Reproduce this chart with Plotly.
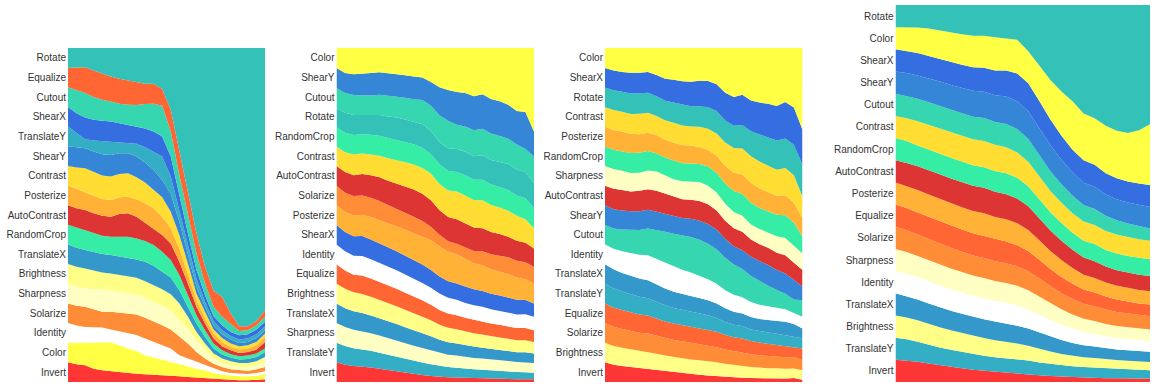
import plotly.graph_objects as go

# ---------------------------------------------------------------------------
# Share of each augmentation over 24 training steps, four searches.
# Values are relative weights per step; each panel is stacked and normalised.
# ---------------------------------------------------------------------------

# Panel 1 (bottom -> top)
p1_labels = ["Invert", "Color", "Identity", "Solarize", "Sharpness", "Brightness",
             "TranslateX", "RandomCrop", "AutoContrast", "Posterize", "Contrast",
             "ShearY", "TranslateY", "ShearX", "Cutout", "Equalize", "Rotate"]
p1_invert = [59, 53, 50, 40, 35, 32, 29, 27, 25, 23, 22, 21, 19, 17, 15, 13, 12, 9, 7, 5, 5, 5, 6, 8]
p1_color = [59, 65, 70, 80, 85, 87, 81, 73, 68, 57, 51, 46, 41, 36, 32, 27, 23, 18, 15, 15, 12, 12, 13, 17]
p1_identity = [59, 51, 45, 45, 43, 38, 41, 47, 48, 50, 47, 43, 40, 27, 23, 20, 15, 13, 10, 7, 8, 7, 8, 7]
p1_solarize = [59, 59, 60, 52, 47, 53, 57, 59, 61, 62, 62, 60, 57, 55, 45, 30, 20, 15, 13, 11, 10, 10, 11, 13]
p1_sharpness = [59, 57, 55, 61, 67, 65, 62, 61, 60, 60, 58, 58, 56, 50, 42, 35, 25, 15, 12, 12, 10, 11, 12, 15]
p1_brightness = [59, 60, 60, 55, 51, 50, 51, 50, 50, 50, 50, 50, 50, 50, 38, 25, 20, 15, 13, 12, 12, 12, 12, 15]
p1_translatex = [59, 57, 55, 55, 55, 55, 55, 56, 55, 58, 58, 52, 50, 40, 30, 25, 20, 15, 12, 11, 10, 12, 13, 15]
p1_randomcrop = [59, 60, 60, 57, 55, 55, 59, 62, 63, 62, 62, 60, 52, 45, 35, 25, 20, 15, 13, 10, 10, 10, 10, 10]
p1_autocontrast = [59, 58, 60, 60, 60, 60, 68, 70, 65, 55, 50, 50, 50, 40, 35, 25, 20, 15, 12, 12, 10, 11, 12, 20]
p1_posterize = [59, 58, 55, 53, 50, 50, 50, 50, 52, 58, 60, 55, 45, 40, 30, 20, 15, 15, 13, 10, 10, 10, 13, 15]
p1_contrast = [59, 64, 70, 70, 70, 70, 70, 70, 66, 62, 55, 58, 50, 40, 30, 20, 20, 12, 12, 10, 10, 10, 10, 10]
p1_sheary = [59, 60, 60, 62, 64, 65, 62, 60, 62, 60, 60, 52, 53, 40, 30, 20, 15, 13, 11, 12, 10, 10, 12, 10]
p1_translatey = [59, 43, 27, 33, 39, 40, 33, 32, 38, 46, 55, 70, 52, 35, 30, 25, 15, 13, 12, 11, 10, 11, 11, 12]
p1_shearx = [59, 60, 65, 62, 61, 60, 57, 53, 52, 56, 60, 60, 60, 40, 30, 25, 20, 14, 15, 12, 13, 12, 14, 13]
p1_cutout = [59, 68, 73, 68, 63, 60, 58, 60, 64, 73, 83, 92, 75, 65, 55, 50, 35, 28, 25, 23, 13, 12, 13, 15]
p1_equalize = [59, 68, 77, 80, 78, 75, 75, 73, 71, 61, 60, 50, 65, 75, 65, 60, 50, 48, 60, 32, 14, 12, 13, 20]
p1_rotate = [59, 59, 58, 67, 77, 85, 92, 97, 100, 107, 107, 123, 185, 305, 435, 555, 655, 727, 745, 795, 833, 833, 817, 785]

# Panel 2 (bottom -> top)
p2_labels = ["Invert", "TranslateY", "Sharpness", "TranslateX", "Brightness", "Equalize",
             "Identity", "ShearX", "Posterize", "Solarize", "AutoContrast", "Contrast",
             "RandomCrop", "Rotate", "Cutout", "ShearY", "Color"]
p2_invert = [59, 52, 48, 45, 42, 38, 34, 30, 26, 22, 20, 18, 16, 15, 14, 13, 12, 11, 10, 9, 9, 8, 8, 8]
p2_translatey = [59, 56, 53, 50, 48, 46, 44, 42, 40, 38, 36, 34, 33, 31, 30, 28, 27, 26, 25, 24, 23, 22, 21, 20]
p2_sharpness = [59, 57, 55, 53, 51, 50, 48, 47, 45, 44, 42, 41, 40, 38, 37, 36, 35, 34, 33, 32, 31, 30, 30, 29]
p2_translatex = [59, 57, 55, 53, 51, 50, 49, 48, 46, 45, 43, 42, 40, 39, 37, 36, 35, 33, 32, 31, 30, 29, 29, 28]
p2_brightness = [59, 58, 57, 55, 54, 53, 52, 51, 50, 49, 48, 47, 46, 45, 44, 42, 41, 40, 39, 38, 37, 36, 36, 35]
p2_equalize = [59, 55, 52, 54, 53, 52, 51, 50, 49, 48, 47, 46, 45, 44, 43, 42, 41, 40, 39, 38, 37, 36, 36, 35]
p2_identity = [59, 58, 57, 57, 56, 55, 54, 53, 52, 51, 50, 50, 50, 48, 47, 46, 45, 44, 43, 42, 42, 41, 41, 40]
p2_shearx = [59, 58, 58, 58, 57, 56, 55, 55, 54, 54, 53, 52, 52, 51, 50, 50, 49, 48, 47, 46, 45, 44, 42, 40]
p2_posterize = [59, 60, 62, 62, 65, 68, 70, 72, 75, 78, 82, 88, 92, 92, 90, 85, 80, 78, 75, 72, 70, 66, 62, 60]
p2_solarize = [59, 58, 58, 56, 55, 54, 52, 50, 48, 46, 44, 40, 35, 32, 32, 35, 38, 42, 45, 48, 50, 50, 50, 50]
p2_autocontrast = [59, 62, 62, 62, 65, 68, 70, 72, 75, 78, 78, 78, 75, 75, 75, 75, 72, 70, 68, 65, 62, 60, 58, 55]
p2_contrast = [59, 60, 62, 60, 60, 62, 65, 68, 70, 72, 75, 78, 80, 82, 85, 85, 85, 85, 82, 80, 78, 75, 70, 60]
p2_randomcrop = [58, 58, 58, 56, 57, 58, 58, 58, 58, 58, 58, 58, 60, 60, 60, 62, 62, 62, 62, 62, 62, 60, 62, 60]
p2_rotate = [58, 60, 60, 56, 57, 60, 62, 64, 65, 65, 68, 68, 68, 70, 70, 72, 72, 74, 75, 75, 78, 78, 78, 75]
p2_cutout = [60, 60, 60, 58, 57, 58, 60, 60, 62, 65, 70, 75, 82, 85, 75, 78, 80, 80, 80, 78, 76, 75, 68, 80]
p2_sheary = [60, 60, 62, 62, 65, 65, 65, 65, 65, 65, 65, 70, 85, 95, 100, 103, 105, 105, 105, 105, 102, 100, 110, 75]
p2_color = [60, 75, 78, 75, 72, 70, 72, 75, 78, 82, 85, 100, 120, 130, 135, 138, 148, 140, 155, 160, 170, 188, 190, 250]

# Panel 3 (bottom -> top)
p3_labels = ["Invert", "Brightness", "Solarize", "Equalize", "TranslateY", "TranslateX",
             "Identity", "Cutout", "ShearY", "AutoContrast", "Sharpness", "RandomCrop",
             "Posterize", "Contrast", "Rotate", "ShearX", "Color"]
p3_invert = [59, 52, 48, 45, 42, 40, 37, 34, 30, 27, 24, 22, 20, 18, 16, 14, 13, 12, 11, 10, 10, 10, 12, 7]
p3_brightness = [59, 57, 55, 54, 52, 50, 49, 48, 47, 46, 45, 44, 43, 42, 40, 38, 35, 33, 32, 30, 30, 28, 28, 28]
p3_solarize = [59, 58, 57, 56, 55, 55, 54, 53, 52, 52, 51, 50, 48, 46, 44, 42, 40, 38, 36, 35, 34, 33, 33, 30]
p3_equalize = [59, 58, 57, 56, 55, 54, 53, 52, 51, 50, 50, 49, 48, 47, 45, 43, 42, 40, 38, 36, 34, 33, 30, 35]
p3_translatey = [59, 58, 56, 55, 54, 52, 51, 50, 48, 47, 46, 45, 44, 42, 40, 38, 37, 35, 34, 33, 32, 31, 30, 30]
p3_translatex = [59, 58, 56, 55, 55, 54, 53, 52, 50, 48, 47, 46, 45, 44, 42, 40, 38, 37, 36, 36, 37, 38, 38, 30]
p3_identity = [59, 62, 65, 68, 72, 75, 78, 80, 78, 75, 72, 68, 64, 60, 56, 52, 48, 45, 42, 40, 38, 36, 32, 35]
p3_cutout = [59, 62, 66, 70, 75, 80, 88, 95, 100, 105, 108, 110, 108, 105, 100, 92, 85, 78, 70, 60, 52, 45, 40, 50]
p3_sheary = [59, 58, 57, 56, 56, 56, 55, 55, 54, 54, 56, 58, 60, 60, 58, 56, 56, 58, 60, 60, 58, 58, 58, 40]
p3_autocontrast = [59, 62, 62, 60, 62, 62, 64, 62, 60, 58, 58, 60, 60, 58, 56, 55, 55, 52, 50, 50, 50, 52, 50, 50]
p3_sharpness = [59, 60, 58, 56, 55, 56, 58, 56, 54, 55, 56, 58, 56, 55, 52, 50, 48, 45, 45, 45, 48, 50, 50, 50]
p3_randomcrop = [59, 58, 58, 60, 60, 58, 55, 56, 58, 56, 55, 55, 58, 60, 62, 64, 65, 65, 62, 60, 62, 65, 68, 50]
p3_posterize = [59, 60, 60, 58, 56, 55, 56, 55, 54, 56, 55, 52, 50, 52, 55, 56, 58, 60, 58, 56, 55, 58, 60, 55]
p3_contrast = [59, 60, 60, 60, 62, 60, 58, 60, 62, 60, 58, 62, 65, 68, 72, 75, 78, 80, 80, 78, 76, 78, 80, 65]
p3_rotate = [59, 60, 60, 62, 62, 60, 60, 60, 62, 64, 62, 62, 65, 68, 68, 68, 70, 75, 80, 82, 85, 85, 90, 95]
p3_shearx = [59, 60, 60, 62, 62, 62, 65, 68, 70, 72, 75, 78, 80, 82, 85, 88, 90, 92, 95, 98, 100, 105, 110, 105]
p3_color = [60, 68, 72, 75, 75, 72, 82, 95, 98, 102, 103, 100, 100, 110, 138, 150, 140, 158, 162, 162, 168, 155, 175, 245]

# Panel 4 (bottom -> top)
p4_labels = ["Invert", "TranslateY", "Brightness", "TranslateX", "Identity", "Sharpness",
             "Solarize", "Equalize", "Posterize", "AutoContrast", "RandomCrop", "Contrast",
             "Cutout", "ShearY", "ShearX", "Color", "Rotate"]
p4_invert = [59, 56, 52, 47, 42, 38, 34, 30, 27, 24, 22, 20, 18, 16, 15, 14, 13, 12, 11, 10, 10, 9, 9, 9]
p4_translatey = [59, 56, 52, 48, 45, 43, 41, 39, 37, 36, 35, 34, 33, 32, 31, 30, 29, 28, 27, 26, 25, 24, 23, 22]
p4_brightness = [59, 57, 55, 53, 51, 49, 47, 45, 43, 41, 39, 37, 35, 33, 31, 29, 27, 26, 25, 24, 23, 23, 22, 22]
p4_translatex = [59, 56, 54, 52, 50, 49, 48, 47, 46, 45, 44, 42, 41, 40, 38, 36, 34, 32, 30, 29, 28, 28, 27, 27]
p4_identity = [59, 58, 57, 56, 55, 54, 53, 52, 51, 50, 49, 48, 46, 44, 42, 40, 38, 35, 33, 31, 30, 29, 28, 27]
p4_sharpness = [59, 57, 55, 54, 53, 52, 51, 50, 49, 48, 47, 46, 45, 44, 42, 40, 38, 36, 34, 33, 32, 32, 31, 31]
p4_solarize = [59, 57, 55, 54, 53, 52, 51, 50, 49, 48, 47, 46, 45, 44, 43, 42, 41, 40, 39, 38, 37, 36, 35, 35]
p4_equalize = [59, 58, 57, 57, 56, 56, 55, 55, 54, 53, 52, 50, 48, 46, 44, 42, 40, 38, 36, 34, 33, 32, 31, 31]
p4_posterize = [59, 58, 58, 57, 57, 56, 56, 55, 55, 54, 53, 52, 50, 48, 46, 44, 42, 40, 38, 37, 36, 36, 35, 35]
p4_autocontrast = [59, 60, 61, 62, 62, 62, 62, 62, 62, 61, 60, 58, 56, 54, 52, 50, 48, 46, 44, 42, 41, 40, 40, 40]
p4_randomcrop = [59, 57, 54, 52, 52, 52, 52, 51, 50, 50, 50, 49, 48, 47, 46, 46, 45, 45, 45, 44, 44, 44, 44, 44]
p4_contrast = [59, 60, 62, 63, 63, 64, 64, 64, 64, 63, 62, 60, 58, 56, 54, 53, 52, 51, 50, 50, 50, 50, 49, 49]
p4_cutout = [59, 58, 58, 58, 57, 57, 56, 56, 56, 55, 55, 55, 54, 52, 50, 48, 46, 44, 42, 40, 38, 36, 34, 32]
p4_sheary = [59, 60, 60, 61, 62, 62, 63, 64, 64, 65, 66, 66, 66, 66, 66, 64, 62, 60, 58, 56, 55, 55, 56, 57]
p4_shearx = [59, 58, 58, 57, 57, 57, 58, 58, 58, 60, 62, 65, 66, 66, 65, 62, 60, 60, 58, 56, 56, 56, 56, 58]
p4_color = [59, 62, 66, 70, 72, 74, 76, 78, 78, 80, 76, 80, 76, 85, 100, 115, 128, 125, 122, 125, 125, 128, 140, 160]
p4_rotate = [59, 58, 58, 60, 64, 70, 73, 76, 75, 78, 80, 82, 110, 150, 190, 225, 255, 290, 297, 318, 332, 338, 328, 314]

panels = [
    (p1_labels, [p1_invert, p1_color, p1_identity, p1_solarize, p1_sharpness, p1_brightness,
                 p1_translatex, p1_randomcrop, p1_autocontrast, p1_posterize, p1_contrast,
                 p1_sheary, p1_translatey, p1_shearx, p1_cutout, p1_equalize, p1_rotate]),
    (p2_labels, [p2_invert, p2_translatey, p2_sharpness, p2_translatex, p2_brightness, p2_equalize,
                 p2_identity, p2_shearx, p2_posterize, p2_solarize, p2_autocontrast, p2_contrast,
                 p2_randomcrop, p2_rotate, p2_cutout, p2_sheary, p2_color]),
    (p3_labels, [p3_invert, p3_brightness, p3_solarize, p3_equalize, p3_translatey, p3_translatex,
                 p3_identity, p3_cutout, p3_sheary, p3_autocontrast, p3_sharpness, p3_randomcrop,
                 p3_posterize, p3_contrast, p3_rotate, p3_shearx, p3_color]),
    (p4_labels, [p4_invert, p4_translatey, p4_brightness, p4_translatex, p4_identity, p4_sharpness,
                 p4_solarize, p4_equalize, p4_posterize, p4_autocontrast, p4_randomcrop, p4_contrast,
                 p4_cutout, p4_sheary, p4_shearx, p4_color, p4_rotate]),
]

# one fixed colour per augmentation, shared by all panels
COLORS = {
    "Rotate": "#33c1b8", "Equalize": "#ff6633", "Cutout": "#36d7b0", "ShearX": "#356ee0",
    "TranslateY": "#33aec4", "ShearY": "#3586d6", "Contrast": "#ffdd33", "Posterize": "#ffb236",
    "AutoContrast": "#dd3434", "RandomCrop": "#36eda6", "TranslateX": "#3598cb",
    "Brightness": "#ffff88", "Sharpness": "#ffffc4", "Solarize": "#ff8c36",
    "Identity": "#ffffff", "Color": "#ffff44", "Invert": "#ff3636",
}

W, H = 1153, 385
# plot rectangles in pixels: (left, right, top, bottom)
boxes = [(68, 265, 48, 382), (336.5, 534, 48, 382), (605, 802.5, 48, 382), (895.5, 1150, 5, 382)]

fig = go.Figure()
layout_axes = {}
for k, (labels, series) in enumerate(panels):
    sfx = "" if k == 0 else str(k + 1)
    steps = list(range(len(series[0])))
    for name, vals in zip(labels, series):
        fig.add_trace(go.Scatter(
            x=steps, y=vals, name=name, mode="lines",
            line=dict(width=0, color=COLORS[name]), fillcolor=COLORS[name],
            stackgroup=f"g{k}", groupnorm="fraction",
            xaxis="x" + sfx, yaxis="y" + sfx, showlegend=False,
            hovertemplate=name + ": %{y:.3f}<extra></extra>",
        ))
    l, r, t, b = boxes[k]
    n = len(labels)
    layout_axes["xaxis" + sfx] = dict(
        domain=[l / W, r / W], anchor="y" + sfx, range=[0, len(steps) - 1],
        showticklabels=False, showgrid=False, zeroline=False, ticks="", showline=False,
    )
    layout_axes["yaxis" + sfx] = dict(
        domain=[(H - b) / H, (H - t) / H], anchor="x" + sfx, range=[0, 1],
        tickvals=[(i + 0.5) / n for i in range(n)], ticktext=labels,
        showgrid=False, zeroline=False, ticks="", showline=False,
        tickfont=dict(family="Liberation Sans, Arial, sans-serif", size=10, color="#333333"),
        ticklabelstandoff=1,
    )

fig.update_layout(
    width=W, height=H, autosize=False,
    margin=dict(l=0, r=0, t=0, b=0),
    paper_bgcolor="white", plot_bgcolor="white",
    **layout_axes,
)

fig.write_html("out.html")
